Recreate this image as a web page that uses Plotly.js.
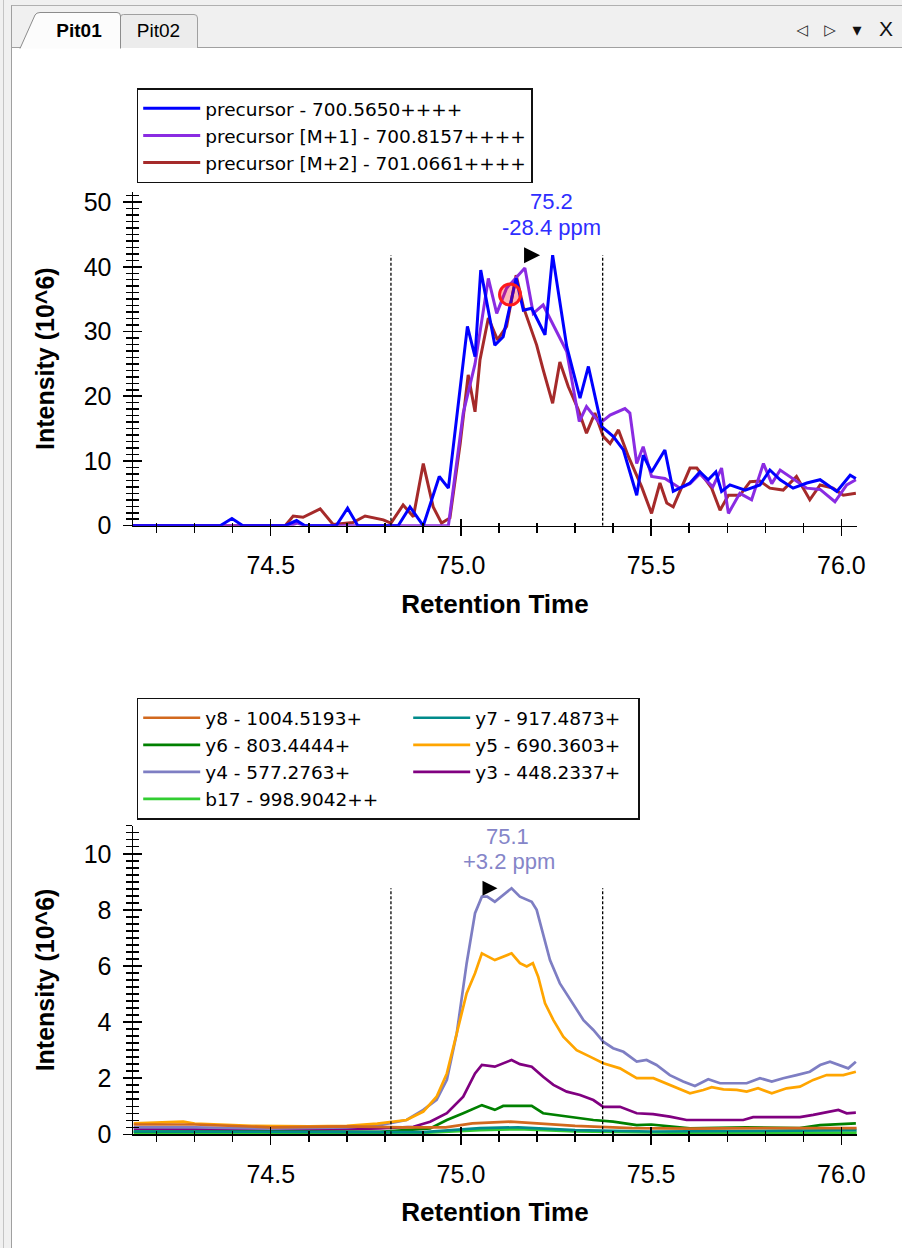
<!DOCTYPE html>
<html>
<head>
<meta charset="utf-8">
<script src="https://cdn.plot.ly/plotly-3.0.1.min.js"></script>
<style>
html,body{margin:0;padding:0;background:#fff;}
#wrap{position:relative;width:902px;height:1248px;overflow:hidden;background:#fff;}
#chart{position:absolute;left:0;top:0;width:902px;height:1248px;}
#ui{position:absolute;left:0;top:0;width:902px;height:1248px;pointer-events:none;}
</style>
</head>
<body>
<div id="wrap">
  <div id="chart"></div>
  <svg id="ui" width="902" height="1248" xmlns="http://www.w3.org/2000/svg">
    <rect x="0" y="0" width="902" height="48" fill="#f0f0f0"/>
    <rect x="0" y="0" width="12" height="1248" fill="#f0f0f0"/>
    <line x1="3.5" y1="0" x2="3.5" y2="1248" stroke="#c4c4c4" stroke-width="1"/>
    <line x1="11.5" y1="5" x2="11.5" y2="1248" stroke="#a0a0a0" stroke-width="1"/>
    <line x1="11.5" y1="5.5" x2="902" y2="5.5" stroke="#b0b0b0" stroke-width="1"/>
    <line x1="11.5" y1="47.5" x2="902" y2="47.5" stroke="#a0a0a0" stroke-width="1"/>
    <path d="M120.5,48 L120.5,17 Q120.5,14.5 123.5,14.5 L194,14.5 Q197.5,14.5 197.5,18 L197.5,48" fill="#ececec" stroke="#a0a0a0" stroke-width="1"/>
    <path d="M20,48.5 L35,15 Q36.5,12.5 40,12.5 L117,12.5 Q120.5,12.5 120.5,16 L120.5,48.5" fill="#fcfcfc" stroke="#8c8c8c" stroke-width="1"/>
    <text x="79" y="37" font-family="Liberation Sans, Arial, sans-serif" font-size="19" font-weight="bold" text-anchor="middle" fill="#000">Pit01</text>
    <text x="158.5" y="37" font-family="Liberation Sans, Arial, sans-serif" font-size="19" text-anchor="middle" fill="#000">Pit02</text>
    <text x="802" y="35" font-family="DejaVu Sans, sans-serif" font-size="15" text-anchor="middle" fill="#222">◁</text>
    <text x="830" y="35" font-family="DejaVu Sans, sans-serif" font-size="15" text-anchor="middle" fill="#222">▷</text>
    <text x="857" y="36" font-family="DejaVu Sans, sans-serif" font-size="18" text-anchor="middle" fill="#111">▾</text>
    <text x="886" y="36" font-family="Liberation Sans, Arial, sans-serif" font-size="21" text-anchor="middle" fill="#111">X</text>
  </svg>
</div>
<script>
// ---------- data: precursor chromatograms (top) ----------
const precursorNames = ['precursor - 700.5650++++', 'precursor [M+1] - 700.8157++++', 'precursor [M+2] - 701.0661++++'];
const precursorColors = ['#0000ff', '#8a2be2', '#a52a2a'];

const precTimes = [74.138, 74.367, 74.398, 74.427, 74.538, 74.568, 74.590, 74.672, 74.702, 74.729, 74.835, 74.866, 74.901, 74.943, 74.967, 75.017, 75.037, 75.052, 75.089, 75.111, 75.145, 75.164, 75.186, 75.221, 75.241, 75.278, 75.313, 75.335, 75.370, 75.400, 75.427, 75.462, 75.479, 75.501, 75.536, 75.558, 75.602, 75.628, 75.650, 75.670, 75.685, 75.707, 75.747, 75.786, 75.812, 75.839, 75.873, 75.909, 75.944, 75.988, 76.023, 76.038];
const precInt = [0, 0, 1.1, 0, 0, 0.8, 0, 0, 2.7, 0, 0, 2.9, 0, 7.6, 5.8, 30.8, 26.1, 39.5, 27.9, 29.2, 38.2, 33.3, 33.6, 29.5, 41.8, 27.7, 19.7, 24.6, 15.3, 13.8, 11.7, 4.7, 10.9, 8.3, 11.7, 5.3, 6.6, 8.3, 7.1, 8.3, 5.3, 6.3, 5.5, 6.3, 8.6, 7.1, 5.8, 6.6, 7.1, 5.3, 7.8, 7.3];

const m1Times = [74.138, 74.55, 74.57, 74.59, 74.967, 75.006, 75.037, 75.072, 75.094, 75.120, 75.168, 75.190, 75.216, 75.278, 75.311, 75.330, 75.365, 75.392, 75.431, 75.444, 75.462, 75.479, 75.501, 75.536, 75.576, 75.602, 75.628, 75.662, 75.685, 75.703, 75.733, 75.764, 75.795, 75.817, 75.839, 75.873, 75.909, 75.944, 75.983, 76.014, 76.038];
const m1Int = [0, 0, 0.4, 0, 0, 17.4, 25, 38.2, 32.8, 36.7, 39.8, 32.8, 34.1, 26.9, 16.1, 18.4, 15.8, 17.1, 18.1, 17.4, 9.6, 12.2, 7.6, 7.3, 5.8, 6.5, 8.0, 6.0, 8.9, 1.9, 5.0, 4.0, 9.6, 6.5, 8.6, 7.2, 5.8, 5.6, 3.7, 6.3, 7.1];

const m2Times = [74.138, 74.538, 74.559, 74.585, 74.630, 74.664, 74.716, 74.748, 74.796, 74.816, 74.848, 74.875, 74.901, 74.927, 74.949, 74.971, 74.998, 75.019, 75.037, 75.050, 75.072, 75.096, 75.120, 75.145, 75.164, 75.199, 75.216, 75.241, 75.260, 75.282, 75.308, 75.330, 75.352, 75.374, 75.392, 75.414, 75.440, 75.475, 75.501, 75.523, 75.541, 75.558, 75.602, 75.620, 75.637, 75.659, 75.681, 75.703, 75.733, 75.760, 75.786, 75.812, 75.847, 75.882, 75.917, 75.944, 75.978, 76.005, 76.038];
const m2Int = [0, 0, 1.5, 1.3, 2.6, 0.2, 0.5, 1.5, 0.9, 0.4, 3.2, 1.4, 9.6, 2.9, 0.4, 1.2, 12.7, 23.3, 17.6, 25.6, 32.1, 28.7, 30.8, 38.7, 33.8, 27.9, 24.1, 18.9, 25.3, 21.5, 18, 14.3, 17.4, 13.8, 12.7, 14.8, 10.7, 6.0, 1.9, 6.6, 3.5, 2.9, 8.9, 8.9, 7.6, 5.8, 2.4, 4.7, 4.7, 6.8, 6.9, 5.8, 5.5, 7.6, 4.0, 6.3, 5.8, 4.7, 5.0];

// ---------- data: fragment chromatograms (bottom) ----------
const fragmentNames = ['y8 - 1004.5193+', 'y7 - 917.4873+', 'y6 - 803.4444+', 'y5 - 690.3603+', 'y4 - 577.2763+', 'y3 - 448.2337+', 'b17 - 998.9042++'];
const fragmentColors = ['#d2691e', '#008b8b', '#008000', '#ffa500', '#7e7ec3', '#800080', '#32cd32'];

const y8Times = [74.14, 74.30, 74.50, 74.70, 74.85, 74.96, 75.03, 75.13, 75.20, 75.30, 75.45, 75.60, 75.80, 76.04];
const y8Int = [0.35, 0.35, 0.25, 0.28, 0.25, 0.25, 0.39, 0.45, 0.39, 0.3, 0.22, 0.2, 0.22, 0.22];
const y7Times = [74.14, 74.50, 74.90, 75.05, 75.15, 75.30, 75.50, 75.80, 76.04];
const y7Int = [0.1, 0.08, 0.08, 0.22, 0.25, 0.15, 0.1, 0.12, 0.15];
const y6Times = [74.14, 74.50, 74.787, 74.919, 74.963, 75.006, 75.055, 75.089, 75.111, 75.155, 75.186, 75.216, 75.278, 75.313, 75.348, 75.400, 75.462, 75.50, 75.602, 75.75, 75.89, 75.944, 76.038];
const y6Int = [0.1, 0.08, 0.09, 0.21, 0.51, 0.75, 1.04, 0.87, 1.01, 1.01, 1.01, 0.75, 0.63, 0.57, 0.51, 0.45, 0.33, 0.35, 0.21, 0.25, 0.22, 0.33, 0.39];
const y5Times = [74.14, 74.27, 74.30, 74.45, 74.60, 74.70, 74.78, 74.822, 74.857, 74.901, 74.936, 74.963, 74.989, 75.015, 75.037, 75.055, 75.089, 75.111, 75.133, 75.155, 75.173, 75.189, 75.203, 75.221, 75.243, 75.269, 75.304, 75.339, 75.374, 75.418, 75.462, 75.506, 75.549, 75.602, 75.637, 75.659, 75.690, 75.725, 75.751, 75.781, 75.817, 75.856, 75.891, 75.926, 75.961, 76.005, 76.038];
const y5Int = [0.39, 0.45, 0.38, 0.3, 0.28, 0.3, 0.38, 0.45, 0.51, 0.81, 1.34, 2.17, 3.6, 5.03, 5.74, 6.45, 6.21, 6.33, 6.45, 6.1, 5.98, 6.1, 5.62, 4.67, 4.07, 3.48, 3.0, 2.77, 2.53, 2.35, 2.0, 2.0, 1.76, 1.46, 1.58, 1.68, 1.6, 1.58, 1.52, 1.64, 1.46, 1.64, 1.70, 1.94, 2.11, 2.11, 2.23];
const y4Times = [74.14, 74.30, 74.50, 74.70, 74.787, 74.857, 74.901, 74.936, 74.963, 74.989, 75.015, 75.037, 75.055, 75.069, 75.089, 75.111, 75.133, 75.155, 75.186, 75.199, 75.216, 75.234, 75.260, 75.287, 75.322, 75.348, 75.374, 75.400, 75.427, 75.462, 75.488, 75.514, 75.549, 75.584, 75.615, 75.650, 75.681, 75.751, 75.786, 75.817, 75.847, 75.882, 75.917, 75.944, 75.970, 76.018, 76.038];
const y4Int = [0.25, 0.25, 0.2, 0.25, 0.33, 0.51, 0.87, 1.23, 1.94, 3.6, 6.1, 7.88, 8.47, 8.47, 8.29, 8.53, 8.77, 8.47, 8.29, 8.0, 7.17, 6.21, 5.38, 4.79, 4.07, 3.72, 3.30, 3.07, 2.94, 2.59, 2.65, 2.47, 2.11, 1.88, 1.72, 1.96, 1.82, 1.82, 2.0, 1.88, 2.0, 2.11, 2.23, 2.47, 2.59, 2.35, 2.59];
const y3Times = [74.14, 74.50, 74.70, 74.787, 74.875, 74.919, 74.963, 75.006, 75.037, 75.055, 75.089, 75.133, 75.155, 75.186, 75.216, 75.243, 75.278, 75.313, 75.348, 75.374, 75.418, 75.462, 75.505, 75.549, 75.593, 75.742, 75.768, 75.891, 75.926, 75.992, 76.014, 76.038];
const y3Int = [0.2, 0.15, 0.18, 0.21, 0.27, 0.45, 0.75, 1.34, 2.17, 2.47, 2.41, 2.65, 2.5, 2.41, 2.05, 1.76, 1.52, 1.40, 1.22, 0.98, 0.98, 0.75, 0.72, 0.63, 0.51, 0.51, 0.61, 0.61, 0.69, 0.87, 0.75, 0.77];
const b17Times = [74.14, 74.90, 75.05, 75.15, 75.30, 75.60, 76.04];
const b17Int = [0.05, 0.05, 0.15, 0.18, 0.1, 0.05, 0.06];

// ---------- annotations / markers ----------
const peakBoundaries = [74.816, 75.3725];
const topApexLabel = ['75.2', '-28.4 ppm'];
const bottomApexLabel = ['75.1', '+3.2 ppm'];
const topIdArrowTime = [75.208];
const bottomIdArrowTime = [75.096];
const idPointTime = [75.129];
const idPointInt = [35.7];

// axis ranges
const timeRange = [74.138, 76.041];
const topIntRange = [0, 51.6];
const bottomIntRange = [0, 11.0];

function argmax(a){ let m = 0; for (let i = 1; i < a.length; i++) if (a[i] > a[m]) m = i; return m; }

const FONT = 'Liberation Sans, Arial, Helvetica, sans-serif';
const LEGFONT = 'DejaVu Sans, Verdana, sans-serif';

const topX = [precTimes, m1Times, m2Times];
const topY = [precInt, m1Int, m2Int];
const botX = [y8Times, y7Times, y6Times, y5Times, y4Times, y3Times, b17Times];
const botY = [y8Int, y7Int, y6Int, y5Int, y4Int, y3Int, b17Int];
const col2 = {1: true, 3: true, 5: true};

const topMax = Math.max(...precInt, ...m1Int, ...m2Int);
const botMax = Math.max(...y8Int, ...y7Int, ...y6Int, ...y5Int, ...y4Int, ...y3Int, ...b17Int);
const topApexIdx = argmax(precInt);
const botApexIdx = argmax(y4Int);

const traces = [];
for (let i = topX.length - 1; i >= 0; i--) {
  traces.push({type: 'scatter', mode: 'lines', name: precursorNames[i], x: topX[i], y: topY[i],
    xaxis: 'x', yaxis: 'y', legend: 'legend',
    line: {color: precursorColors[i], width: 3}});
}
for (let i = botX.length - 1; i >= 0; i--) {
  const t = {type: 'scatter', mode: 'lines', name: fragmentNames[i], x: botX[i], y: botY[i],
    xaxis: 'x2', yaxis: 'y2', legend: 'legend2',
    line: {color: fragmentColors[i], width: 2.7}};
  if (col2[i]) t.legendwidth = 158;
  traces.push(t);
}
// identified MS/MS scan point
traces.push({type: 'scatter', mode: 'markers', x: idPointTime, y: idPointInt, xaxis: 'x', yaxis: 'y',
  showlegend: false,
  marker: {symbol: 'circle', size: 21, color: 'rgba(255,0,0,0.28)', line: {color: '#ff1a1a', width: 3}}});
// ID time arrows (at the apex height of each graph)
traces.push({type: 'scatter', mode: 'markers', x: topIdArrowTime, y: [topMax], xaxis: 'x', yaxis: 'y',
  showlegend: false, marker: {symbol: 'arrow-right', size: 16, color: '#000', line: {width: 0}}});
traces.push({type: 'scatter', mode: 'markers', x: bottomIdArrowTime, y: [botMax], xaxis: 'x2', yaxis: 'y2',
  showlegend: false, marker: {symbol: 'arrow-right', size: 15, color: '#000', line: {width: 0}}});
// empty traces creating overlay axes (crossing tick marks)
traces.push({type: 'scatter', x: [], y: [], xaxis: 'x3', yaxis: 'y3', showlegend: false});
traces.push({type: 'scatter', x: [], y: [], xaxis: 'x4', yaxis: 'y4', showlegend: false});

const axBase = {showgrid: false, zeroline: false, showline: true, linecolor: '#000', linewidth: 1.5,
  tickcolor: '#000', tickwidth: 1.5, automargin: false, fixedrange: true,
  tickfont: {family: FONT, size: 25, color: '#000'}};

function xMain(anchor) {
  return Object.assign({}, axBase, {anchor: anchor, domain: [0, 1], range: timeRange, ticks: 'outside', ticklen: 9,
    dtick: 0.5, tick0: 74.5, tickformat: '.1f', ticklabelstandoff: 8,
    minor: {dtick: 0.1, tick0: 74.5, ticks: 'outside', ticklen: 6, tickwidth: 1.5, tickcolor: '#000'},
    title: {text: 'Retention Time', standoff: 16, font: {family: FONT, size: 26, weight: 'bold', color: '#000'}}});
}
function xOver(over, anchor) {
  return Object.assign({}, axBase, {overlaying: over, anchor: anchor, range: timeRange, ticks: 'inside', ticklen: 7,
    dtick: 0.5, tick0: 74.5, showticklabels: false,
    minor: {dtick: 0.1, tick0: 74.5, ticks: 'inside', ticklen: 3, tickwidth: 1.5, tickcolor: '#000'}});
}
function yMain(anchor, domain, range, dtick, mdtick) {
  return Object.assign({}, axBase, {anchor: anchor, domain: domain, range: range, ticks: 'outside', ticklen: 9,
    dtick: dtick, tick0: 0, ticklabelstandoff: 6,
    minor: {dtick: mdtick, tick0: 0, ticks: 'outside', ticklen: 6, tickwidth: 1.5, tickcolor: '#000'},
    title: {text: 'Intensity (10^6)', standoff: 22, font: {family: FONT, size: 25, weight: 'bold', color: '#000'}}});
}
function yOver(over, anchor, range, dtick, mdtick) {
  return Object.assign({}, axBase, {overlaying: over, anchor: anchor, range: range, ticks: 'inside', ticklen: 9,
    dtick: dtick, tick0: 0, showticklabels: false,
    minor: {dtick: mdtick, tick0: 0, ticks: 'inside', ticklen: 6, tickwidth: 1.5, tickcolor: '#000'}});
}

const H = 1248, ML = 133, MR = 45, PW = 902 - ML - MR;
const topDomain = [1 - 525.7 / H, 1 - 191.7 / H];
const botDomain = [1 - 1134.3 / H, 1 - 825.7 / H];

const shapes = [];
peakBoundaries.forEach(b => {
  shapes.push({type: 'line', xref: 'x', yref: 'y', x0: b, x1: b, y0: 0, y1: topMax, line: {color: '#000', width: 1.3, dash: '3px,2px'}});
  shapes.push({type: 'line', xref: 'x2', yref: 'y2', x0: b, x1: b, y0: 0, y1: botMax, line: {color: '#000', width: 1.3, dash: '3px,2px'}});
});

const topLabelColor = '#2e2eff';
const botLabelColor = '#8585c8';
const annotations = [
  {xref: 'x', yref: 'y', x: precTimes[topApexIdx], y: precInt[topApexIdx], text: topApexLabel[0],
   showarrow: false, xanchor: 'center', yanchor: 'middle', yshift: 54, xshift: -1,
   font: {family: FONT, size: 22, color: topLabelColor}},
  {xref: 'x', yref: 'y', x: precTimes[topApexIdx], y: precInt[topApexIdx], text: topApexLabel[1],
   showarrow: false, xanchor: 'center', yanchor: 'middle', yshift: 28, xshift: -1,
   font: {family: FONT, size: 22, color: topLabelColor}},
  {xref: 'x2', yref: 'y2', x: y4Times[botApexIdx], y: y4Int[botApexIdx], text: bottomApexLabel[0],
   showarrow: false, xanchor: 'center', yanchor: 'middle', yshift: 52, xshift: -4,
   font: {family: FONT, size: 22, color: botLabelColor}},
  {xref: 'x2', yref: 'y2', x: y4Times[botApexIdx], y: y4Int[botApexIdx], text: bottomApexLabel[1],
   showarrow: false, xanchor: 'center', yanchor: 'middle', yshift: 27, xshift: -3,
   font: {family: FONT, size: 22, color: botLabelColor}}
];

const layout = {
  width: 902, height: H,
  margin: {l: ML, r: MR, t: 0, b: 0, pad: 0, autoexpand: false},
  paper_bgcolor: '#ffffff', plot_bgcolor: 'rgba(0,0,0,0)',
  font: {family: FONT, color: '#000'},
  xaxis: xMain('y'),
  yaxis: yMain('x', topDomain, topIntRange, 10, 1),
  xaxis3: xOver('x', 'y3'),
  yaxis3: yOver('y', 'x3', topIntRange, 10, 1),
  xaxis2: xMain('y2'),
  yaxis2: yMain('x2', botDomain, bottomIntRange, 2, 0.25),
  xaxis4: xOver('x2', 'y4'),
  yaxis4: yOver('y2', 'x4', bottomIntRange, 2, 0.25),
  legend: {x: (136.7 - ML) / PW, xanchor: 'left', y: 1 - 88.3 / H, yanchor: 'top', orientation: 'v',
    traceorder: 'reversed', bgcolor: '#fff', bordercolor: '#111', borderwidth: 1.5, itemwidth: 57,
    font: {family: LEGFONT, size: 18.5, color: '#000'}},
  legend2: {x: (136.7 - ML) / PW, xanchor: 'left', y: 1 - 697.7 / H, yanchor: 'top', orientation: 'h',
    traceorder: 'reversed', bgcolor: '#fff', bordercolor: '#111', borderwidth: 1.5, itemwidth: 57,
    entrywidth: 198, entrywidthmode: 'pixels',
    font: {family: LEGFONT, size: 18.5, color: '#000'}},
  shapes: shapes,
  annotations: annotations,
  hovermode: false
};

Plotly.newPlot('chart', traces, layout, {displayModeBar: false, staticPlot: true});
</script>
</body>
</html>
